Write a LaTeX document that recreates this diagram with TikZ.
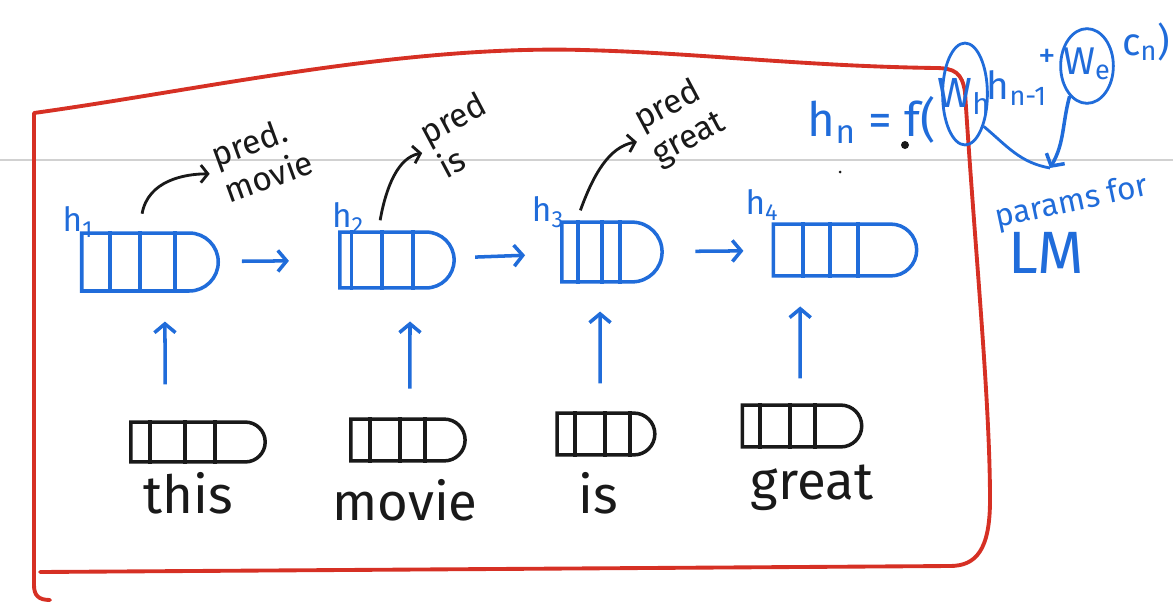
\documentclass[tikz,border=0pt]{standalone}
\usepackage{fontspec}
\setmainfont{Fira Sans}
\usetikzlibrary{shapes.misc,shapes.geometric,arrows.meta}
\definecolor{ink}{RGB}{25,25,25}
\definecolor{inkblue}{RGB}{32,108,218}
\definecolor{inkred}{RGB}{214,48,36}
\definecolor{rulecol}{gray}{0.82}
\tikzset{
  hstate/.style={draw=inkblue,line width=2pt,rounded rectangle,rounded rectangle left arc=none,inner sep=0pt},
  wvec/.style={draw=ink,line width=2pt,rounded rectangle,rounded rectangle left arc=none,inner sep=0pt},
  hdiv/.style={inkblue,line width=2pt},
  wdiv/.style={ink,line width=2pt},
  word/.style={text=ink,font=\fontsize{30}{32}\selectfont},
  hlab/.style={text=inkblue,font=\fontsize{19}{21}\selectfont,inner sep=1pt},
  predlab/.style={text=ink,font=\fontsize{19}{22}\selectfont,align=left,inner sep=0pt},
  flow/.style={inkblue,line width=2pt,-{Straight Barb[length=5pt,width=12pt]}},
  predarr/.style={ink,line width=1.6pt,-{Straight Barb[length=4pt,width=10pt]}},
  eqtxt/.style={text=inkblue,font=\fontsize{27}{29}\selectfont,inner sep=0pt},
  ring/.style={draw=inkblue,line width=1.6pt,ellipse,inner sep=0pt},
  frame/.style={inkred,line width=2.2pt,line cap=round,line join=round},
}

\begin{document}
\begin{tikzpicture}[x=0.02cm,y=-0.02cm]
  \useasboundingbox (0,0) rectangle (1173,605);
  \draw[rulecol,line width=1pt] (0,160) -- (1173,160);
  % red frame
  \draw[frame] (50,600) .. controls (38,600) and (34,595) .. (34,585) -- (34,113)
    .. controls (200,90) and (400,45) .. (583,50) .. controls (700,53) and (800,66) .. (935,68)
    .. controls (955,68) and (962,73) .. (965,92) .. controls (975,250) and (990,400) .. (990,500)
    .. controls (990,550) and (976,566) .. (950,566) -- (40,572);
  % hidden states
  \node[hstate,minimum width=77.7pt,minimum height=33pt] (h1) at (150,262) {};
  \node[hstate,minimum width=65pt,minimum height=31.8pt] (h2) at (397,260) {};
  \node[hstate,minimum width=57pt,minimum height=34pt] (h3) at (612,252) {};
  \node[hstate,minimum width=81.6pt,minimum height=29.5pt] (h4) at (845,250) {};
  \foreach \d in {-22.7,-5.7,14.2} \draw[hdiv] ([xshift=\d pt]h1.north) -- ([xshift=\d pt]h1.south);
  \foreach \d in {-26,-8.5,9} \draw[hdiv] ([xshift=\d pt]h2.north) -- ([xshift=\d pt]h2.south);
  \foreach \d in {-19.3,-5.7,4.5} \draw[hdiv] ([xshift=\d pt]h3.north) -- ([xshift=\d pt]h3.south);
  \foreach \d in {-23.8,-8.5,7.4} \draw[hdiv] ([xshift=\d pt]h4.north) -- ([xshift=\d pt]h4.south);
  \node[hlab] (l1) at (78,222) {h\textsubscript{1}};
  \node[hlab] (l2) at (348,218) {h\textsubscript{2}};
  \node[hlab] (l3) at (548,212) {h\textsubscript{3}};
  \node[hlab] (l4) at (762,205) {h\textsubscript{4}};
  \draw[flow,shorten <=12.5pt,shorten >=28pt] (h1) -- (h2);
  \draw[flow,shorten <=11pt,shorten >=20pt] (h2) -- (h3);
  \draw[flow,shorten <=18pt,shorten >=16pt] (h3) -- (h4);
  % word vectors
  \node[wvec,minimum width=76.5pt,minimum height=22.7pt] (b1) at (198,442) {};
  \node[wvec,minimum width=65pt,minimum height=23.8pt] (b2) at (408,440) {};
  \node[wvec,minimum width=55.6pt,minimum height=23.8pt] (b3) at (606,434) {};
  \node[wvec,minimum width=68pt,minimum height=23.8pt] (b4) at (802,426) {};
  \foreach \d in {-27.2,-7.4,9.6} \draw[wdiv] ([xshift=\d pt]b1.north) -- ([xshift=\d pt]b1.south);
  \foreach \d in {-21.5,-4.5,9.6} \draw[wdiv] ([xshift=\d pt]b2.north) -- ([xshift=\d pt]b2.south);
  \foreach \d in {-17.6,-0.6,13.6} \draw[wdiv] ([xshift=\d pt]b3.north) -- ([xshift=\d pt]b3.south);
  \foreach \d in {-23.8,-6.8,7.4} \draw[wdiv] ([xshift=\d pt]b4.north) -- ([xshift=\d pt]b4.south);
  \node[word] (w1) at (188,493) {this};
  \node[word] (w2) at (405,500) {movie};
  \node[word] (w3) at (598,493) {is};
  \node[word] (w4) at (812,488) {great};
  \draw[flow] ([xshift=-18.7pt,yshift=20.4pt]b1.north) -- ([xshift=8.5pt,yshift=-16.4pt]h1.south);
  \draw[flow] ([xshift=1.1pt,yshift=16.4pt]b2.north) -- ([xshift=7.4pt,yshift=-18.1pt]h2.south);
  \draw[flow] ([xshift=-3.4pt,yshift=15.9pt]b3.north) -- ([xshift=-6.8pt,yshift=-15.9pt]h3.south);
  \draw[flow] ([xshift=-1.1pt,yshift=14.2pt]b4.north) -- ([xshift=-25.5pt,yshift=-16.4pt]h4.south);
  % predictions
  \node[predlab,rotate=20] (p1) at (262,158) {pred.\\movie};
  \node[predlab,rotate=28] (p2) at (462,135) {pred\\is};
  \node[predlab,rotate=28] (p3) at (680,122) {pred\\great};
  \draw[predarr,shorten >=5pt] ([xshift=-4.5pt,yshift=10pt]h1.north) to[out=80,in=180] (p1.west);
  \draw[predarr,shorten >=5pt] ([xshift=-9.6pt,yshift=5.7pt]h2.north) to[out=80,in=190] (p2.west);
  \draw[predarr,shorten >=5pt] ([xshift=-18pt,yshift=5.7pt]h3.north) to[out=70,in=190] (p3.west);
  % recurrence
  \node[eqtxt] (eq1) at (872,120) {h\textsubscript{n} = f(};
  \node[ring,minimum width=25.5pt,minimum height=58pt] (wh) at (965,94) {};
  \node[eqtxt,font=\fontsize{24}{26}\selectfont] (whx) at (964,96) {W\textsubscript{h}};
  \node[eqtxt,font=\fontsize{22}{24}\selectfont] (eq2) at (1017,88) {h\textsubscript{n-1}};
  \node[eqtxt,font=\fontsize{20}{22}\selectfont] (plus) at (1047,58) {+};
  \node[ring,minimum width=30pt,minimum height=42.5pt] (we) at (1087,66) {};
  \node[eqtxt,font=\fontsize{22}{24}\selectfont] (wex) at (1087,64) {W\textsubscript{e}};
  \node[eqtxt,font=\fontsize{22}{24}\selectfont] (eq3) at (1146,42) {c\textsubscript{n})};
  \node[text=inkblue,font=\fontsize{18}{20}\selectfont,rotate=12,inner sep=0pt] (pf) at (1072,203) {params for};
  \node[text=inkblue,font=\fontsize{34}{36}\selectfont,inner sep=0pt] (lm) at (1046,253) {LM};
  \coordinate (meet) at (1050,168);
  \draw[inkblue,line width=1.6pt] (wh.-60) to[out=-40,in=170] (meet);
  \draw[flow] (we.-120) to[out=-105,in=60] (meet);
  \fill[ink] (905,145) circle (4);
  \fill[ink] (840,172) circle (1.5);
\end{tikzpicture}
\end{document}
